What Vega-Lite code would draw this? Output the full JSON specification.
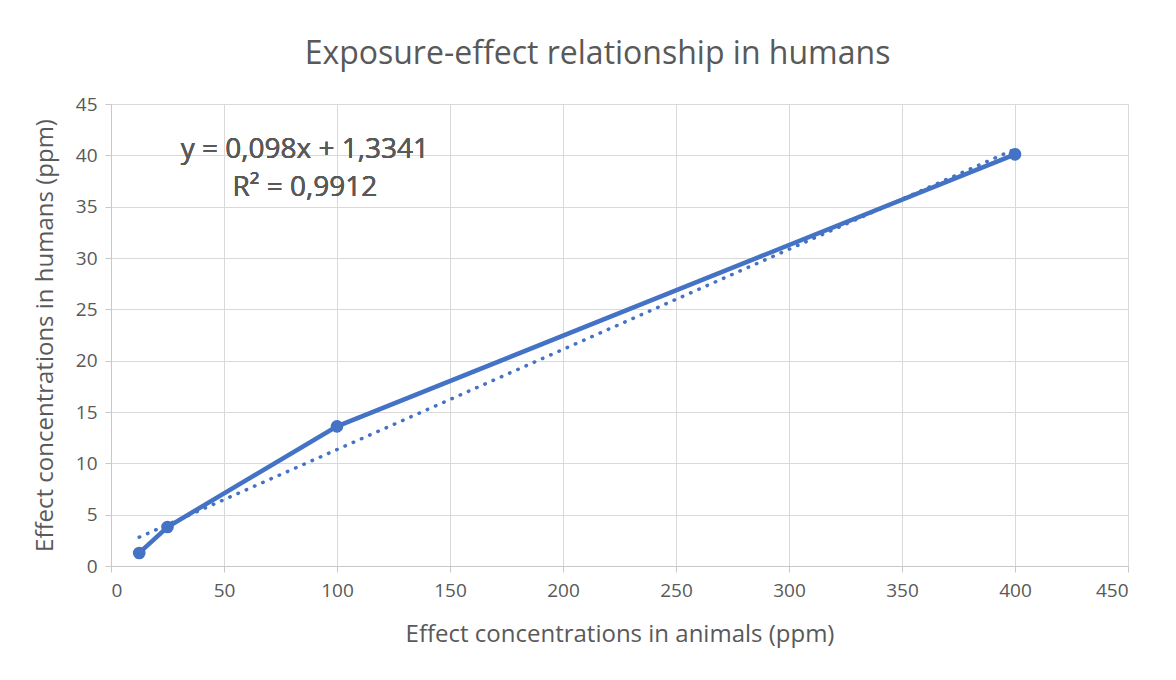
{
  "$schema": "https://vega.github.io/schema/vega-lite/v6.json",
  "width": 1017,
  "height": 462,
  "autosize": {"type": "none"},
  "padding": {"left": 111, "top": 104, "right": 48, "bottom": 114},
  "background": "white",
  "title": {
    "text": "Exposure-effect relationship in humans",
    "fontSize": 32,
    "font": "Open Sans",
    "fontWeight": "normal",
    "color": "#595959",
    "anchor": "middle",
    "dx": -22,
    "offset": 24
  },
  "config": {
    "view": {"stroke": null},
    "axis": {
      "labelFont": "Open Sans",
      "titleFont": "Open Sans",
      "labelFontSize": 19,
      "titleFontSize": 24,
      "titleFontWeight": "normal",
      "labelColor": "#595959",
      "titleColor": "#595959",
      "gridColor": "#d9d9d9",
      "domainColor": "#c8c8c8",
      "tickColor": "#c8c8c8",
      "tickSize": 6
    }
  },
  "data": {
    "values": [
      {"animals": 12.5, "humans": 1.27},
      {"animals": 25, "humans": 3.8},
      {"animals": 100, "humans": 13.6},
      {"animals": 400, "humans": 40.1}
    ]
  },
  "layer": [
    {
      "mark": {"type": "line", "color": "#4472c4", "strokeWidth": 3.5, "strokeDash": [0.5, 8.5], "strokeCap": "round"},
      "transform": [{"regression": "humans", "on": "animals"}],
      "encoding": {
        "x": {"field": "animals", "type": "quantitative"},
        "y": {"field": "humans", "type": "quantitative"}
      }
    },
    {
      "mark": {"type": "line", "color": "#4472c4", "strokeWidth": 4.5, "point": {"size": 160, "filled": true, "color": "#4472c4", "opacity": 1}},
      "encoding": {
        "x": {
          "field": "animals", "type": "quantitative",
          "scale": {"domain": [0, 450], "nice": false},
          "axis": {"values": [0, 50, 100, 150, 200, 250, 300, 350, 400, 450], "title": "Effect concentrations in animals (ppm)", "titlePadding": 22, "labelPadding": 9}
        },
        "y": {
          "field": "humans", "type": "quantitative",
          "scale": {"domain": [0, 45], "nice": false},
          "axis": {"values": [0, 5, 10, 15, 20, 25, 30, 35, 40, 45], "title": "Effect concentrations in humans (ppm)", "titlePadding": 18, "labelPadding": 8}
        }
      }
    },
    {
      "mark": {"type": "text", "font": "Open Sans", "fontSize": 28, "color": "#595959", "align": "center", "baseline": "middle"},
      "encoding": {
        "x": {"datum": 85.8},
        "y": {"datum": 40.5},
        "text": {"value": "y = 0,098x + 1,3341"}
      }
    },
    {
      "mark": {"type": "text", "font": "Open Sans", "fontSize": 28, "color": "#595959", "align": "center", "baseline": "middle"},
      "encoding": {
        "x": {"datum": 85.8},
        "y": {"datum": 36.8},
        "text": {"value": "R² = 0,9912"}
      }
    }
  ]
}
